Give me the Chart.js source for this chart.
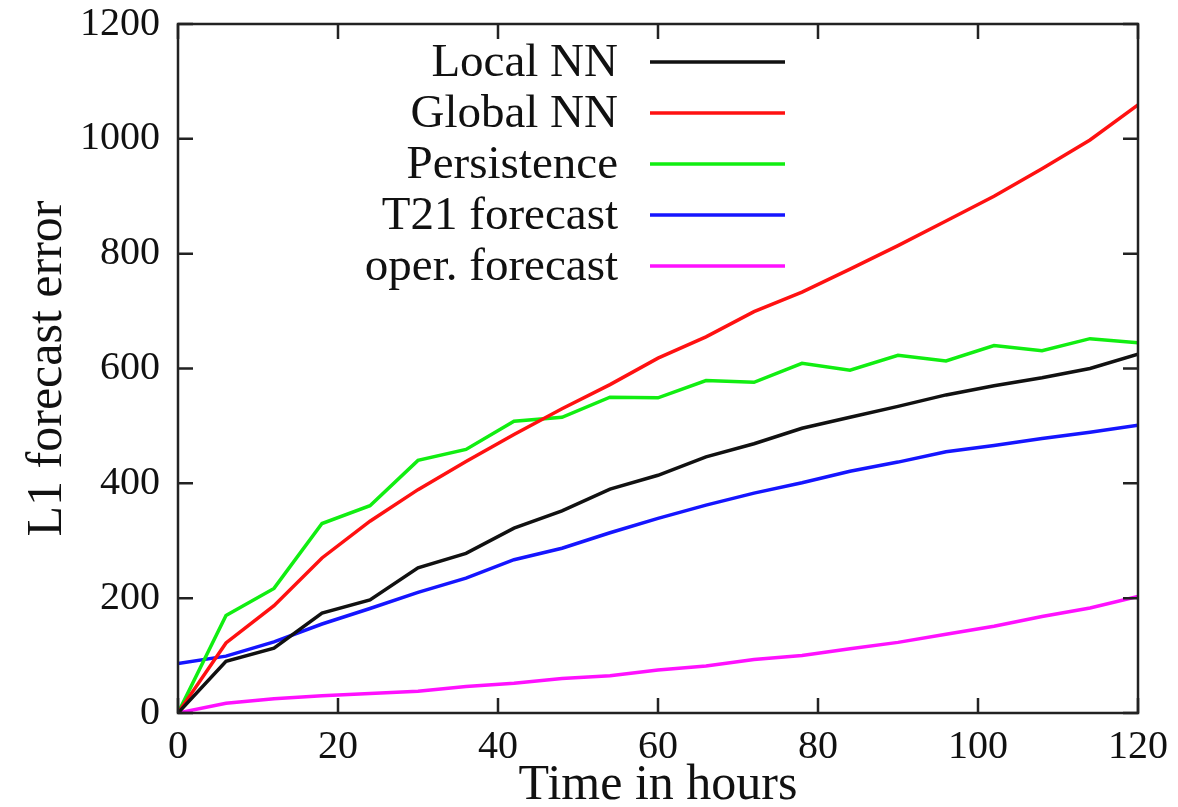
<!DOCTYPE html>
<html>
<head>
<meta charset="utf-8">
<script src="https://cdn.jsdelivr.net/npm/chart.js@4"></script>
<style>
  html, body { margin: 0; padding: 0; background: #fff; }
  #wrap { width: 1178px; height: 807px; }
</style>
</head>
<body>
<div id="wrap"><canvas id="errChart" width="1178" height="807"></canvas></div>
<script>
// forecast lead time, one point every 6 hours
const hours = [0, 6, 12, 18, 24, 30, 36, 42, 48, 54, 60, 66, 72, 78, 84, 90, 96, 102, 108, 114, 120];

// L1 forecast error
const localNN     = [0, 90, 113, 174, 197, 253, 278, 322, 352, 390, 414, 446, 469, 496, 515, 534, 554, 570, 584, 600, 625];
const globalNN    = [0, 122, 187, 270, 334, 389, 438, 485, 530, 572, 618, 655, 699, 733, 773, 814, 857, 900, 948, 998, 1059];
const persistence = [0, 170, 217, 330, 361, 440, 459, 508, 515, 550, 549, 579, 576, 609, 597, 623, 613, 640, 631, 652, 645];
const t21         = [86, 99, 124, 155, 182, 210, 235, 267, 287, 314, 339, 362, 383, 401, 421, 437, 455, 466, 478, 489, 501];
const operational = [0, 17, 25, 30, 34, 38, 46, 52, 60, 65, 75, 82, 93, 100, 112, 123, 137, 151, 168, 183, 203];

const seriesNames = ['Local NN', 'Global NN', 'Persistence', 'T21 forecast', 'oper. forecast'];
const seriesColors = ['#111111', '#ff1111', '#11ee11', '#1515ff', '#ff11ff'];

const xTicks = [0, 20, 40, 60, 80, 100, 120];
const yTicks = [0, 200, 400, 600, 800, 1000, 1200];

const serif = "'Liberation Serif', 'Times New Roman', Times, serif";

function toPoints(values) {
    return hours.map((h, i) => ({ x: h, y: values[i] }));
}

const allSeries = [localNN, globalNN, persistence, t21, operational];
const datasets = allSeries.map((vals, i) => ({
    label: seriesNames[i],
    data: toPoints(vals),
    borderColor: seriesColors[i],
    backgroundColor: seriesColors[i],
    borderWidth: 3.5,
    pointRadius: 0,
    tension: 0,
    fill: false
}));

// gnuplot style box with inward ticks on all four sides
const framePlugin = {
    id: 'frame',
    afterDatasetsDraw(chart) {
        const { ctx, chartArea: a, scales } = chart;
        const len = 15;
        ctx.save();
        ctx.strokeStyle = '#222';
        ctx.lineWidth = 2.5;
        ctx.strokeRect(a.left, a.top, a.right - a.left, a.bottom - a.top);
        ctx.beginPath();
        yTicks.forEach(v => {
            const y = scales.y.getPixelForValue(v);
            ctx.moveTo(a.left, y); ctx.lineTo(a.left + len, y);
            ctx.moveTo(a.right, y); ctx.lineTo(a.right - len, y);
        });
        xTicks.forEach(v => {
            const x = scales.x.getPixelForValue(v);
            ctx.moveTo(x, a.bottom); ctx.lineTo(x, a.bottom - len);
            ctx.moveTo(x, a.top); ctx.lineTo(x, a.top + len);
        });
        ctx.stroke();
        ctx.restore();
    }
};

// legend: right aligned text with the line sample on its right
const keyPlugin = {
    id: 'key',
    afterDatasetsDraw(chart) {
        const { ctx, chartArea: a } = chart;
        const textRight = a.left + 440;
        const lineStart = a.left + 472;
        const lineEnd = a.left + 607;
        ctx.save();
        ctx.font = '47px ' + serif;
        ctx.textAlign = 'right';
        ctx.textBaseline = 'middle';
        chart.data.datasets.forEach((ds, i) => {
            const y = a.top + 38 + i * 51;
            ctx.fillStyle = '#111';
            ctx.fillText(ds.label, textRight, y + 2);
            ctx.strokeStyle = ds.borderColor;
            ctx.lineWidth = 3.5;
            ctx.beginPath();
            ctx.moveTo(lineStart, y);
            ctx.lineTo(lineEnd, y);
            ctx.stroke();
        });
        ctx.restore();
    }
};

new Chart(document.getElementById('errChart'), {
    type: 'line',
    data: { datasets: datasets },
    options: {
        responsive: false,
        animation: false,
        layout: { padding: { top: 24, right: 40, left: 0, bottom: 0 } },
        plugins: {
            legend: { display: false },
            tooltip: { enabled: false }
        },
        scales: {
            x: {
                type: 'linear',
                min: 0,
                max: 120,
                afterFit: s => {
                    s.height = 94;
                    s.paddingLeft = 0;
                    s.paddingRight = 0;
                },
                afterBuildTicks: s => { s.ticks = xTicks.map(v => ({ value: v })); },
                grid: { display: false, drawTicks: false },
                border: { display: false },
                ticks: {
                    padding: 10,
                    color: '#111',
                    font: { family: serif, size: 40 },
                    maxRotation: 0,
                    callback: v => String(v)
                },
                title: {
                    display: true,
                    text: 'Time in hours',
                    color: '#111',
                    font: { family: serif, size: 50, lineHeight: 1 },
                    padding: { top: 0, bottom: -4 }
                }
            },
            y: {
                type: 'linear',
                min: 0,
                max: 1200,
                afterFit: s => {
                    s.width = 178;
                    s.paddingTop = 0;
                    s.paddingBottom = 0;
                },
                afterBuildTicks: s => { s.ticks = yTicks.map(v => ({ value: v })); },
                grid: { display: false, drawTicks: false },
                border: { display: false },
                ticks: {
                    padding: 18,
                    color: '#111',
                    font: { family: serif, size: 40 },
                    callback: v => String(v)
                },
                title: {
                    display: true,
                    text: 'L1 forecast error',
                    color: '#111',
                    font: { family: serif, size: 50, lineHeight: 1 },
                    padding: { top: 23, bottom: 0 }
                }
            }
        }
    },
    plugins: [framePlugin, keyPlugin]
});
</script>
</body>
</html>
